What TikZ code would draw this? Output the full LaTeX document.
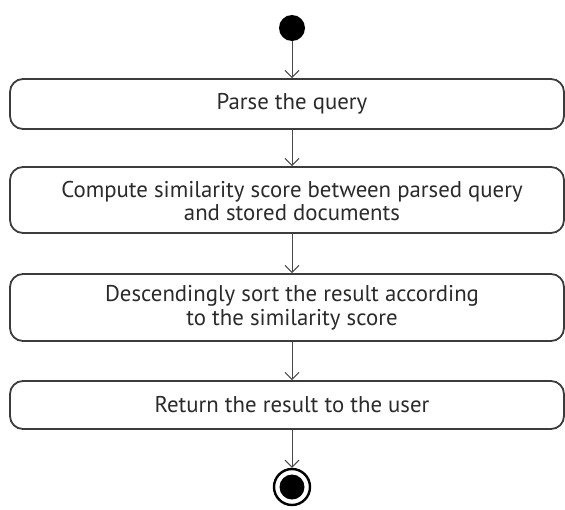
\documentclass[tikz,border=0pt]{standalone}
\usepackage{fontspec}
\setmainfont{PT Sans}
\usetikzlibrary{arrows.meta}
\definecolor{linegray}{HTML}{3C3C3C}
\definecolor{arrowgray}{HTML}{4A4A4A}
\definecolor{textgray}{HTML}{2A2A2A}
\begin{document}
\begin{tikzpicture}[x=1pt,y=-1pt,
  action/.style={draw=linegray, line width=1.8pt, rounded corners=13pt,
    minimum width=554pt, inner sep=0pt, rectangle},
  caption/.style={text=textgray, font=\fontsize{22.8}{23.5}\selectfont, align=center, inner sep=0pt},
  flow/.style={draw=arrowgray, line width=1pt, -{Straight Barb[length=7pt,width=14pt]}}
]
\useasboundingbox (0,0) rectangle (565,509);

% initial and final states
\node[circle, fill=black, minimum size=26pt, inner sep=0pt] (start) at (292,28) {};
\node[circle, draw=black, line width=2.4pt, minimum size=36pt, inner sep=0pt] (finish) at (292,487) {};
\node[circle, fill=black, minimum size=25pt, inner sep=0pt] (finishdot) at (finish.center) {};

% action boxes
\node[action, minimum height=50pt] (parse) at (287,104) {};
\node[action, minimum height=66pt] (score) at (287,200) {};
\node[action, minimum height=67pt] (sort) at (287,307.5) {};
\node[action, minimum height=48pt] (return) at (287,405) {};

% action texts
\node[caption] (parsetext) at (292,104) {Parse the query};
\node[caption] (scoretext) at (292,201) {Compute similarity score between parsed query\\and stored documents};
\node[caption] (sorttext) at (292,308) {Descendingly sort the result according\\to the similarity score};
\node[caption] (returntext) at (292,405) {Return the result to the user};

% control flow
\draw[flow] (start.south) -- (parse.north -| start);
\draw[flow] (parse.south -| start) -- (score.north -| start);
\draw[flow] (score.south -| start) -- (sort.north -| start);
\draw[flow] (sort.south -| start) -- (return.north -| start);
\draw[flow] (return.south -| start) -- (finish.north);
\end{tikzpicture}
\end{document}
